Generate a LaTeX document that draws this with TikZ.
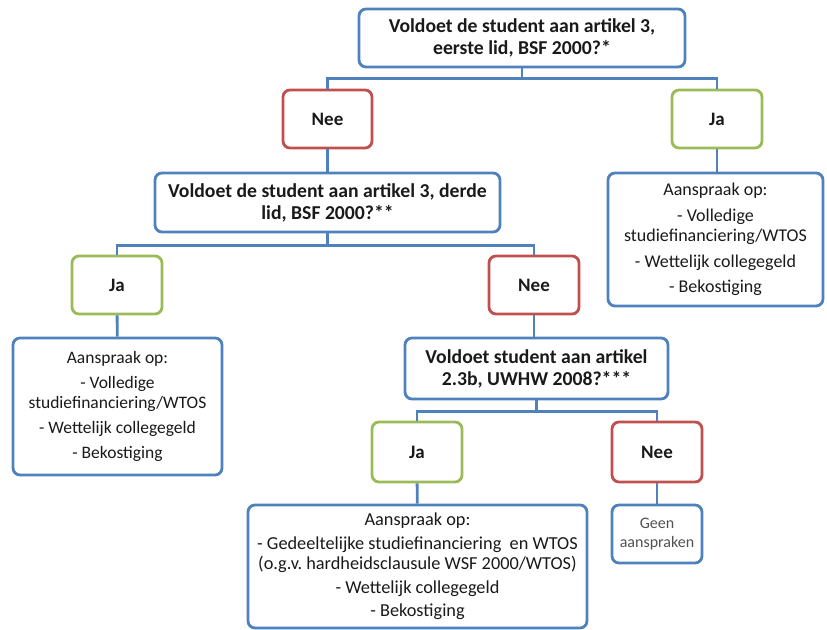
\documentclass[tikz,border=0pt]{standalone}
\usepackage{fontspec}
\setmainfont{Carlito}
\usetikzlibrary{positioning}
\definecolor{qblue}{HTML}{4F81BD}
\definecolor{nred}{HTML}{C0504D}
\definecolor{jgreen}{HTML}{9BBB59}
\definecolor{txt}{HTML}{1A1A1A}
\tikzstyle{box} = [draw, rectangle, rounded corners=7pt, line width=2.8pt, fill=white, align=center, inner sep=2pt, text=txt]
\tikzstyle{question} = [box, draw=qblue, font=\fontsize{19.7}{22}\selectfont\bfseries]
\tikzstyle{nee} = [box, draw=nred, minimum width=90pt, minimum height=58pt, font=\fontsize{19}{20}\selectfont\bfseries]
\tikzstyle{ja} = [box, draw=jgreen, minimum width=90pt, minimum height=58pt, font=\fontsize{19}{20}\selectfont\bfseries]
\tikzstyle{claim} = [box, draw=qblue, font=\fontsize{17.5}{20}\selectfont]
\tikzstyle{line} = [draw=qblue, line width=2.8pt]

\begin{document}
\begin{tikzpicture}[auto, node distance=80pt]
\useasboundingbox (-522pt,38pt) rectangle (305pt,-591pt);

\node [question, minimum width=326pt, minimum height=58pt] (q1) {Voldoet de student aan artikel 3,\\ eerste lid, BSF 2000?*};
\node [nee, below of=q1, node distance=81pt, xshift=-194.5pt, minimum width=89pt] (nee1) {Nee};
\node [ja, right of=nee1, node distance=389.5pt] (ja1) {Ja};
\node [claim, below of=ja1, node distance=120.5pt, xshift=-1.5pt, minimum width=215pt, minimum height=133pt, font=\fontsize{18}{20.5}\selectfont] (claim1) {Aanspraak op:\\[5pt] - Volledige\\ studiefinanciering/WTOS\\[5pt] - Wettelijk collegegeld\\[5pt] - Bekostiging};

\node [question, below of=nee1, node distance=83.5pt, minimum width=345pt, minimum height=59pt] (q2) {Voldoet de student aan artikel 3, derde\\ lid, BSF 2000?**};
\node [ja, below of=q2, node distance=82.5pt, xshift=-210.5pt] (ja2) {Ja};
\node [nee, right of=ja2, node distance=417pt] (nee2) {Nee};
\node [claim, below of=ja2, node distance=121.5pt, xshift=0.5pt, minimum width=209pt, minimum height=137pt] (claim2) {Aanspraak op:\\[5pt] - Volledige\\ studiefinanciering/WTOS\\[5pt] - Wettelijk collegegeld\\[5pt] - Bekostiging};

\node [question, below of=nee2, node distance=83.5pt, xshift=2.5pt, minimum width=263pt, minimum height=61pt] (q3) {Voldoet student aan artikel\\ 2.3b, UWHW 2008?***};
\node [ja, below of=q3, node distance=83.5pt, xshift=-119.5pt, minimum height=60pt] (ja3) {Ja};
\node [nee, right of=ja3, node distance=240pt, minimum height=60pt] (nee3) {Nee};
\node [claim, below of=ja3, node distance=114.5pt, xshift=0.5pt, minimum width=339pt, minimum height=123pt, font=\fontsize{18.3}{20.5}\selectfont] (claim3) {Aanspraak op:\\[3pt] - Gedeeltelijke studiefinanciering\ \ en WTOS\\ (o.g.v.\ hardheidsclausule WSF 2000/WTOS)\\[3pt] - Wettelijk collegegeld\\[3pt] - Bekostiging};
\node [claim, below of=nee3, node distance=82pt, minimum width=90pt, minimum height=58pt, font=\fontsize{16}{19}\selectfont, text=black!68] (geen) {Geen\\ aanspraken};

% first question
\draw [line] (q1.south) -- ++(0,-10pt) -| (nee1.north);
\draw [line] (q1.south) -- ++(0,-10pt) -| (ja1.north);
\draw [line] (ja1.south) -- (ja1.south |- claim1.north);
\draw [line] (nee1) -- (q2);

% second question
\draw [line] (q2.south) -- ++(0,-12pt) -| (ja2.north);
\draw [line] (q2.south) -- ++(0,-12pt) -| (nee2.north);
\draw [line] (ja2) -- (claim2);
\draw [line] (nee2.south) -- (nee2.south |- q3.north);

% third question
\draw [line] (q3.south) -- ++(0,-11pt) -| (ja3.north);
\draw [line] (q3.south) -- ++(0,-11pt) -| (nee3.north);
\draw [line] (ja3) -- (claim3);
\draw [line] (nee3) -- (geen);

\end{tikzpicture}
\end{document}
